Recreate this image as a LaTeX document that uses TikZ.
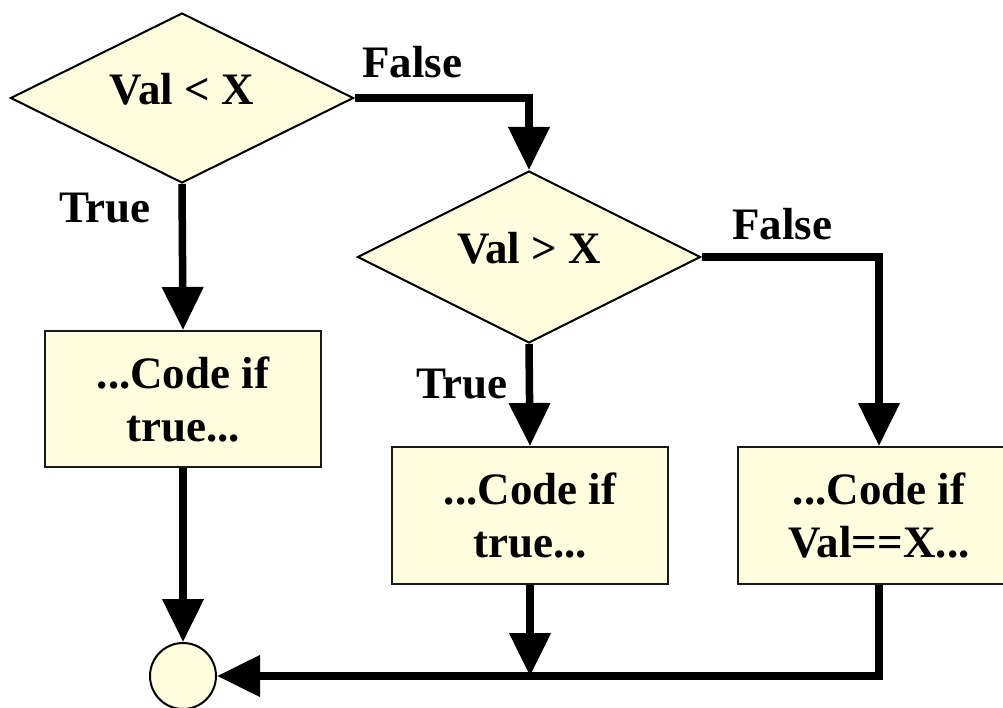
\documentclass[tikz,border=0pt]{standalone}
\usepackage{fontspec}
\setmainfont{Liberation Serif}
\usetikzlibrary{shapes.geometric,arrows.meta}
\definecolor{paleyellow}{RGB}{255,253,224}
\tikzset{
  chartfont/.style={font=\fontsize{45}{53}\selectfont\bfseries},
  decision/.style={shape=diamond, draw=black, line width=2pt, fill=paleyellow,
    inner sep=0pt, chartfont},
  process/.style={shape=rectangle, draw=black!90, line width=2pt, fill=paleyellow,
    inner sep=0pt, align=center, chartfont},
  joint/.style={shape=circle, draw=black, line width=2pt, fill=paleyellow,
    minimum size=66pt, inner sep=0pt},
  branch/.style={inner sep=0pt, chartfont},
  flow/.style={line width=7.5pt, -{Triangle[length=43pt,width=40pt]}}
}
% condition text: baseline a little below the diamond's centre, no extra size
\newcommand{\condtext}[1]{\raisebox{-7pt}[0pt][0pt]{#1}}
\begin{document}
\begin{tikzpicture}[x=1pt,y=-1pt]
  \useasboundingbox (0,0) rectangle (1003,708);
  \fill[white] (0,0) rectangle (1003,708);
  \clip (0,0) rectangle (1003,708);

  % decisions
  \node[decision, minimum width=343pt, minimum height=170pt] (d1) at (182,98)
    {\condtext{Val < X}};
  \node[decision, minimum width=343pt, minimum height=172pt] (d2) at (529,257)
    {\condtext{Val > X}};

  % code blocks
  \node[process, minimum width=276pt, minimum height=136pt] (b1) at (183,399)
    {...Code if\\true...};
  \node[process, minimum width=276pt, minimum height=137pt] (b2) at (530,515.5)
    {...Code if\\true...};
  \node[process, minimum width=282pt, minimum height=137pt] (b3) at (879,515.5)
    {...Code if\\Val==X...};

  % merge point
  \node[joint] (c) at (183,676) {};

  % branch labels
  \node[branch] (f1) at (412,62) {False};
  \node[branch] (t1) at (105,208) {True};
  \node[branch] (f2) at (782,224) {False};
  \node[branch] (t2) at (462,384) {True};

  % connectors
  \draw[flow] (d1.south) -- (b1.north);
  \draw[flow] (d1.east) -| (d2.north);
  \draw[flow] (d2.south) -- (b2.north);
  \draw[flow] (d2.east) -| (b3.north);
  \draw[flow] (b1.south) -- (c.north);
  \coordinate (m) at (b2.south |- c.east);
  \draw[flow] (b3.south) |- (c.east);
  \draw[flow] (b2.south) -- (m);
\end{tikzpicture}
\end{document}
